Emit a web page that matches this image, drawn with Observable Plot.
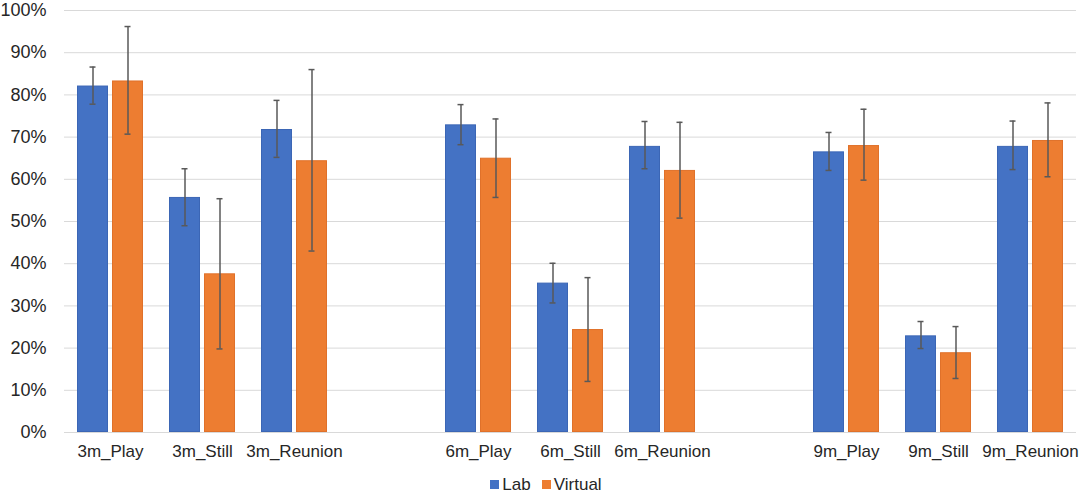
<!DOCTYPE html>
<html>
<head>
<meta charset="utf-8">
<script src="https://cdn.jsdelivr.net/npm/d3@7"></script>
<script src="https://cdn.jsdelivr.net/npm/@observablehq/plot@0.6"></script>
<style>
  html, body { margin: 0; padding: 0; background: #fff; }
  body { width: 1084px; height: 494px; overflow: hidden; font-family: "Liberation Sans", Arial, sans-serif; }
  #legend { height: 24px; display: flex; justify-content: center; align-items: center; gap: 11px; font-size: 17px; color: #262626; padding-left: 8px; padding-top: 5px; box-sizing: border-box; }
  #legend .item { display: flex; align-items: center; gap: 3px; }
  #legend .sw { width: 9px; height: 9px; display: inline-block; }
  #chart svg [aria-label^="y-axis"] text { font-size: 18px; }
</style>
</head>
<body>
<div id="chart"></div>
<div id="legend"></div>
<script>
// Category slots (two empty slots separate the age groups)
const categories = ["3m_Play", "3m_Still", "3m_Reunion", "gap1", "6m_Play", "6m_Still", "6m_Reunion", "gap2", "9m_Play", "9m_Still", "9m_Reunion"];
const conditions = ["3m_Play", "3m_Still", "3m_Reunion", "6m_Play", "6m_Still", "6m_Reunion", "9m_Play", "9m_Still", "9m_Reunion"];
const series = ["Lab", "Virtual"];

const labMean = [0.821, 0.557, 0.718, 0.729, 0.354, 0.678, 0.665, 0.229, 0.678];
const labLow = [0.778, 0.490, 0.652, 0.682, 0.307, 0.625, 0.621, 0.199, 0.623];
const labHigh = [0.866, 0.625, 0.787, 0.777, 0.401, 0.737, 0.711, 0.263, 0.738];

const virtualMean = [0.833, 0.376, 0.644, 0.650, 0.244, 0.621, 0.680, 0.189, 0.692];
const virtualLow = [0.707, 0.198, 0.430, 0.557, 0.121, 0.508, 0.598, 0.128, 0.606];
const virtualHigh = [0.962, 0.554, 0.860, 0.743, 0.367, 0.735, 0.766, 0.251, 0.781];

const yTicks = [0, 0.1, 0.2, 0.3, 0.4, 0.5, 0.6, 0.7, 0.8, 0.9, 1.0];
const colors = ["#4472C4", "#ED7D31"];
const edgeColors = ["#3B66B5", "#E0712A"];

const rows = [];
conditions.forEach((c, i) => {
  rows.push({cond: c, group: "Lab", mean: labMean[i], low: labLow[i], high: labHigh[i]});
  rows.push({cond: c, group: "Virtual", mean: virtualMean[i], low: virtualLow[i], high: virtualHigh[i]});
});
// empty slots (keep the facets present)
["gap1", "gap2"].forEach(g => rows.push({cond: g, group: "Lab", mean: null, low: null, high: null}));

const chart = Plot.plot({
  width: 1084,
  height: 470,
  marginLeft: 60,
  marginRight: 4,
  marginTop: 10,
  marginBottom: 38,
  style: {fontFamily: "'Liberation Sans', Arial, sans-serif", fontSize: "17px", color: "#262626", background: "#fff"},
  fx: {domain: categories, padding: 0, label: null, tickSize: 0, tickPadding: 12, tickFormat: d => d.startsWith("gap") ? "" : d},
  x: {domain: series, paddingInner: 0.111, paddingOuter: 0.344, axis: null},
  y: {domain: [0, 1], ticks: yTicks, tickFormat: d3.format(".0%"), label: null, tickSize: 0, tickPadding: 18},
  color: {domain: series, range: colors},
  marks: [
    Plot.gridY(yTicks, {stroke: "#d9d9d9", strokeOpacity: 1, strokeWidth: 1}),
    Plot.barY(rows.filter(d => d.group === "Lab"), {fx: "cond", x: "group", y: "mean", fill: "group", stroke: edgeColors[0], strokeWidth: 1, inset: 0.5}),
    Plot.barY(rows.filter(d => d.group === "Virtual"), {fx: "cond", x: "group", y: "mean", fill: "group", stroke: edgeColors[1], strokeWidth: 1, inset: 0.5}),
    Plot.ruleX(rows, {fx: "cond", x: "group", y1: "low", y2: "high", stroke: "#595959", strokeWidth: 1.5}),
    Plot.tickY(rows, {fx: "cond", x: "group", y: "low", stroke: "#595959", strokeWidth: 1.5, insetLeft: 12.5, insetRight: 12.5}),
    Plot.tickY(rows, {fx: "cond", x: "group", y: "high", stroke: "#595959", strokeWidth: 1.5, insetLeft: 12.5, insetRight: 12.5})
  ]
});
document.getElementById("chart").appendChild(chart);

const legend = document.getElementById("legend");
series.forEach((s, i) => {
  const item = document.createElement("span");
  item.className = "item";
  item.innerHTML = `<span class="sw" style="background:${colors[i]}"></span><span>${s}</span>`;
  legend.appendChild(item);
});
</script>
</body>
</html>
